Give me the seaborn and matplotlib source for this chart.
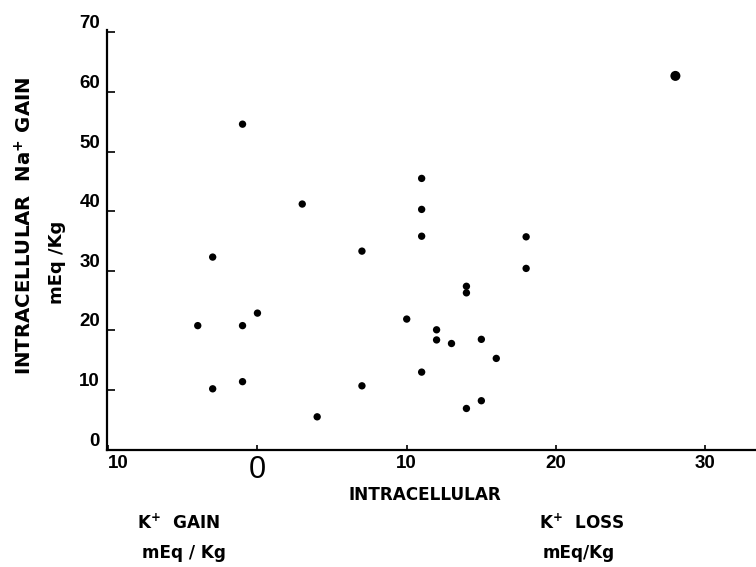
import matplotlib
matplotlib.use("Agg")
import matplotlib.pyplot as plt
import matplotlib.font_manager as fm
import seaborn as sns
import pandas as pd

# ---- data ----
k_change = [28, -1, 11, 3, 11, 11, 18, 7, -3, 18, 14, 14, 0, 10, -4, -1,
            12, 15, 12, 13, 16, 11, -1, 7, -3, 15, 14, 4]
na_gain = [62.7, 54.6, 45.5, 41.2, 40.3, 35.8, 35.7, 33.3, 32.3, 30.4, 27.4,
           26.3, 22.9, 21.9, 20.8, 20.8, 20.1, 18.5, 18.4, 17.8, 15.3, 13.0,
           11.4, 10.7, 10.2, 8.2, 6.9, 5.5]
x_ticks = [-10, 0, 10, 20, 30]
x_tick_labels = ["10", "0", "10", "20", "30"]
y_ticks = [0, 10, 20, 30, 40, 50, 60, 70]
y_tick_labels = ["0", "10", "20", "30", "40", "50", "60", "70"]

df = pd.DataFrame({"k": k_change, "na": na_gain})

sns.set_style("ticks")
names = {f.name for f in fm.fontManager.ttflist}
NARROW = "Liberation Sans Narrow" if "Liberation Sans Narrow" in names else None
BOLD = "Liberation Sans" if "Liberation Sans" in names else "DejaVu Sans"
plt.rcParams["font.family"] = [BOLD, "DejaVu Sans"]
plt.rcParams["text.color"] = "black"
plt.rcParams["xtick.color"] = "black"
plt.rcParams["ytick.color"] = "black"

W, H = 756, 567
fig = plt.figure(figsize=(W / 100, H / 100), dpi=100)
ax = fig.add_axes([106.7 / W, 117.4 / H, (W - 106.7) / W, (537 - 117.4) / H])

sns.scatterplot(data=df, x="k", y="na", ax=ax, color="black", s=28,
                edgecolor="none", legend=False, zorder=3)
# the outlier is drawn a little larger in the original
big = df.iloc[[0]]
sns.scatterplot(data=big, x="k", y="na", ax=ax, color="black", s=52,
                edgecolor="none", legend=False, zorder=3)

ax.set_xlim(-10.1, 33.4)
ax.set_ylim(0, 70.4)
ax.set_xlabel("")
ax.set_ylabel("")

for s in ["top", "right"]:
    ax.spines[s].set_visible(False)
for s in ["left", "bottom"]:
    ax.spines[s].set_linewidth(1.6)
    ax.spines[s].set_color("black")

ax.set_xticks(x_ticks)
ax.set_xticklabels(x_tick_labels, fontsize=13.5, fontweight="bold")
ax.set_yticks(y_ticks)
ax.set_yticklabels(y_tick_labels, fontsize=13.5, fontweight="bold")
ax.tick_params(axis="y", direction="in", length=5.8, width=1.2, pad=4.8,
               colors="black")
ax.tick_params(axis="x", direction="in", length=3.6, width=1.2, pad=4.0,
               colors="black")
for lab in ax.get_yticklabels():
    lab.set_va("bottom")
xl = ax.get_xticklabels()
xl[0].set_ha("left")
xl[1].set_fontsize(22)
xl[1].set_fontweight("normal")
if NARROW:
    xl[1].set_family([NARROW, "DejaVu Sans"])

def fx(px):
    return px / W

def fy(py):
    return 1 - py / H

# y-axis title (two lines)
fig.text(fx(25), fy(226), r"INTRACELLULAR  Na$^{\mathbf{+}}$ GAIN",
         rotation=90, ha="center", va="center", fontsize=14.2,
         fontweight="bold", family=["DejaVu Sans"], color="black")
fig.text(fx(57), fy(262), "mEq /Kg", rotation=90, ha="center", va="center",
         fontsize=13, fontweight="bold", family=["DejaVu Sans"], color="black")

# x-axis titles
if NARROW:
    tfam, tsize = [NARROW, "DejaVu Sans"], 15.5
else:
    tfam, tsize = ["DejaVu Sans"], 12.2
fig.text(fx(425), fy(495), "INTRACELLULAR", ha="center", va="center",
         fontsize=tsize, fontweight="bold", family=tfam, color="black")
fig.text(fx(179), fy(523), r"K$^{\mathbf{+}}$  GAIN", ha="center", va="center",
         fontsize=tsize, fontweight="bold", family=tfam, color="black")
fig.text(fx(184), fy(553), "mEq / Kg", ha="center", va="center",
         fontsize=tsize, fontweight="bold", family=tfam, color="black")
fig.text(fx(582), fy(523), r"K$^{\mathbf{+}}$  LOSS", ha="center", va="center",
         fontsize=tsize, fontweight="bold", family=tfam, color="black")
fig.text(fx(579), fy(553), "mEq/Kg", ha="center", va="center",
         fontsize=tsize, fontweight="bold", family=tfam, color="black")

fig.savefig("out.png", dpi=100, facecolor="white")
